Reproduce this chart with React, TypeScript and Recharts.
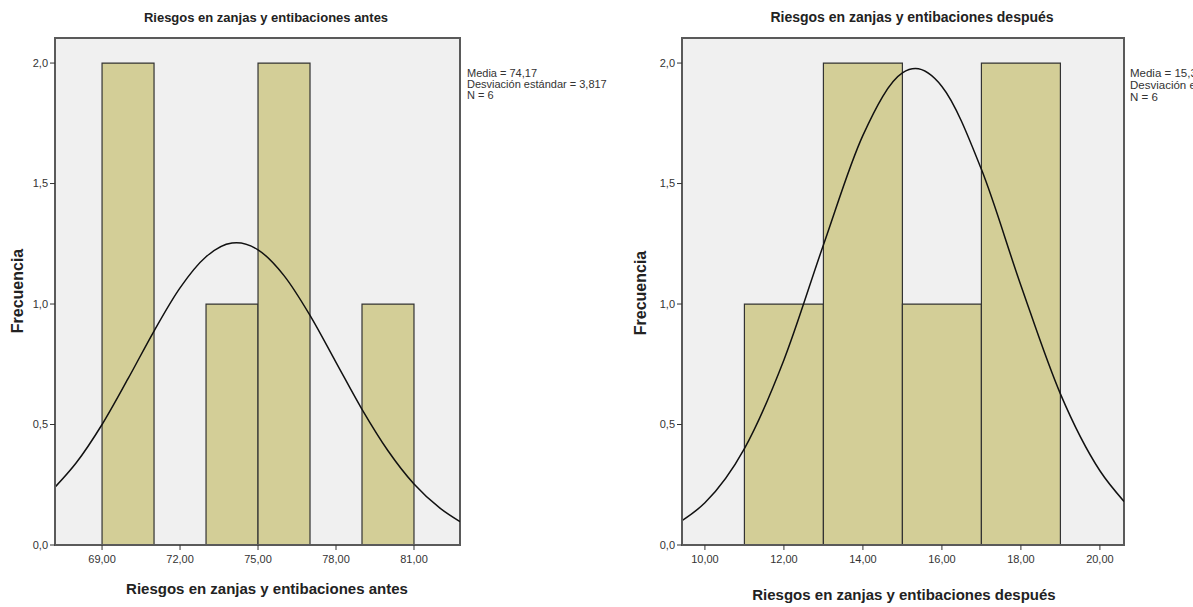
import React from 'react';
import {
  ComposedChart,
  Line,
  XAxis,
  YAxis,
  CartesianGrid,
  ReferenceArea,
} from 'recharts';

// ---------------------------------------------------------------------------
// Data
// ---------------------------------------------------------------------------

const antesBinStart = [69, 73, 75, 79];
const antesBinEnd = [71, 75, 77, 81];
const antesCounts = [2, 1, 2, 1];
const antesCurveX = [67.19, 68, 69, 70, 71, 72, 73, 74, 74.17, 75, 76, 77, 78, 79, 80, 81, 82, 82.77];
const antesCurveY = [0.24, 0.34, 0.5, 0.69, 0.888, 1.067, 1.196, 1.253, 1.254, 1.225, 1.118, 0.953, 0.758, 0.563, 0.391, 0.253, 0.153, 0.097];
const antesTicks = [69, 72, 75, 78, 81];
const antesStats = ['Media = 74,17', 'Desviación estándar = 3,817', 'N = 6'];

const despuesBinStart = [11, 13, 15, 17];
const despuesBinEnd = [13, 15, 17, 19];
const despuesCounts = [1, 2, 1, 2];
const despuesCurveX = [9.42, 10, 11, 12, 13, 14, 15, 15.33, 16, 17, 18, 19, 20, 20.61];
const despuesCurveY = [0.101, 0.175, 0.4, 0.768, 1.245, 1.7, 1.959, 1.977, 1.903, 1.559, 1.077, 0.627, 0.308, 0.181];
const despuesTicks = [10, 12, 14, 16, 18, 20];
const despuesStats = ['Media = 15,33', 'Desviación estándar = 2,422', 'N = 6'];

const freqTicks = [0, 0.5, 1, 1.5, 2];

// ---------------------------------------------------------------------------
// Histogram panel
// ---------------------------------------------------------------------------

const FONT = '"Liberation Sans", Arial, sans-serif';
const BAR_FILL = '#d3ce97';
const FRAME = '#5a5a5a';

interface PanelProps {
  left: number;
  width: number;
  marginLeft: number;
  marginRight: number;
  xDomain: [number, number];
  yMax: number;
  binStart: number[];
  binEnd: number[];
  counts: number[];
  curveX: number[];
  curveY: number[];
  ticks: number[];
}

const Panel: React.FC<PanelProps> = ({
  left,
  width,
  marginLeft,
  marginRight,
  xDomain,
  yMax,
  binStart,
  binEnd,
  counts,
  curveX,
  curveY,
  ticks,
}) => {
  const data = curveX.map((x, i) => ({ x, y: curveY[i] }));
  const tickStyle = { fontSize: 11, fill: '#333', fontFamily: FONT };

  return (
    <div style={{ position: 'absolute', left, top: 0 }}>
      <ComposedChart
        width={width}
        height={607}
        data={data}
        margin={{ top: 38, right: marginRight, bottom: 32, left: marginLeft }}
      >
        <CartesianGrid horizontal={false} vertical={false} fill="#f0f0f0" />
        <XAxis
          dataKey="x"
          type="number"
          domain={xDomain}
          allowDataOverflow
          ticks={ticks}
          tickFormatter={(v: number) => v.toFixed(2).replace('.', ',')}
          tick={tickStyle}
          tickSize={5}
          tickMargin={5}
          height={30}
          axisLine={{ stroke: FRAME, strokeWidth: 2 }}
          tickLine={{ stroke: '#333' }}
        />
        <YAxis
          type="number"
          domain={[0, yMax]}
          allowDataOverflow
          ticks={freqTicks}
          tickFormatter={(v: number) => v.toFixed(1).replace('.', ',')}
          tick={tickStyle}
          tickSize={5}
          tickMargin={2}
          width={45}
          axisLine={{ stroke: FRAME, strokeWidth: 2 }}
          tickLine={{ stroke: '#333' }}
        />
        {binStart.map((b, i) => (
          <ReferenceArea
            key={b}
            x1={b}
            x2={binEnd[i]}
            y1={0}
            y2={counts[i]}
            fill={BAR_FILL}
            fillOpacity={1}
            stroke="#333"
            strokeWidth={1.2}
          />
        ))}
        <ReferenceArea
          x1={xDomain[0]}
          x2={xDomain[1]}
          y1={0}
          y2={yMax}
          fill="none"
          stroke={FRAME}
          strokeWidth={2}
        />
        <Line
          dataKey="y"
          type="monotone"
          stroke="#111"
          strokeWidth={1.5}
          dot={false}
          isAnimationActive={false}
        />
      </ComposedChart>
    </div>
  );
};

// ---------------------------------------------------------------------------
// Text helpers
// ---------------------------------------------------------------------------

const centered = (x: number, y: number, size: number, extra: React.CSSProperties = {}): React.CSSProperties => ({
  position: 'absolute',
  left: x,
  top: y,
  transform: 'translate(-50%, -50%)',
  whiteSpace: 'nowrap',
  fontFamily: FONT,
  fontWeight: 'bold',
  fontSize: size,
  color: '#222',
  ...extra,
});

const Stats: React.FC<{ x: number; top: number; size: number; lh: number; lines: string[] }> = ({
  x,
  top,
  size,
  lh,
  lines,
}) => (
  <div
    style={{
      position: 'absolute',
      left: x,
      top,
      fontFamily: FONT,
      fontSize: size,
      lineHeight: `${lh}px`,
      color: '#333',
      whiteSpace: 'nowrap',
    }}
  >
    {lines.map((l) => (
      <div key={l}>{l}</div>
    ))}
  </div>
);

// ---------------------------------------------------------------------------
// App
// ---------------------------------------------------------------------------

export default function App() {
  return (
    <div
      style={{
        position: 'absolute',
        left: 0,
        top: 0,
        width: 1193,
        height: 607,
        overflow: 'hidden',
        background: '#fff',
      }}
    >
      <Panel
        left={0}
        width={600}
        marginLeft={10}
        marginRight={140}
        xDomain={[67.19, 82.77]}
        yMax={2.104}
        binStart={antesBinStart}
        binEnd={antesBinEnd}
        counts={antesCounts}
        curveX={antesCurveX}
        curveY={antesCurveY}
        ticks={antesTicks}
      />
      <Panel
        left={600}
        width={593}
        marginLeft={37}
        marginRight={69}
        xDomain={[9.42, 20.61]}
        yMax={2.104}
        binStart={despuesBinStart}
        binEnd={despuesBinEnd}
        counts={despuesCounts}
        curveX={despuesCurveX}
        curveY={despuesCurveY}
        ticks={despuesTicks}
      />

      <div style={centered(266, 17, 13)}>Riesgos en zanjas y entibaciones antes</div>
      <div style={centered(912, 17, 14)}>Riesgos en zanjas y entibaciones después</div>

      <div style={centered(267, 588, 15)}>Riesgos en zanjas y entibaciones antes</div>
      <div style={centered(904, 594, 15)}>Riesgos en zanjas y entibaciones después</div>

      <div style={centered(18, 291, 16, { transform: 'translate(-50%, -50%) rotate(-90deg)' })}>Frecuencia</div>
      <div style={centered(641, 293, 16, { transform: 'translate(-50%, -50%) rotate(-90deg)' })}>Frecuencia</div>

      <Stats x={467} top={68} size={11} lh={11} lines={antesStats} />
      <Stats x={1130} top={67} size={11.5} lh={12} lines={despuesStats} />
    </div>
  );
}
